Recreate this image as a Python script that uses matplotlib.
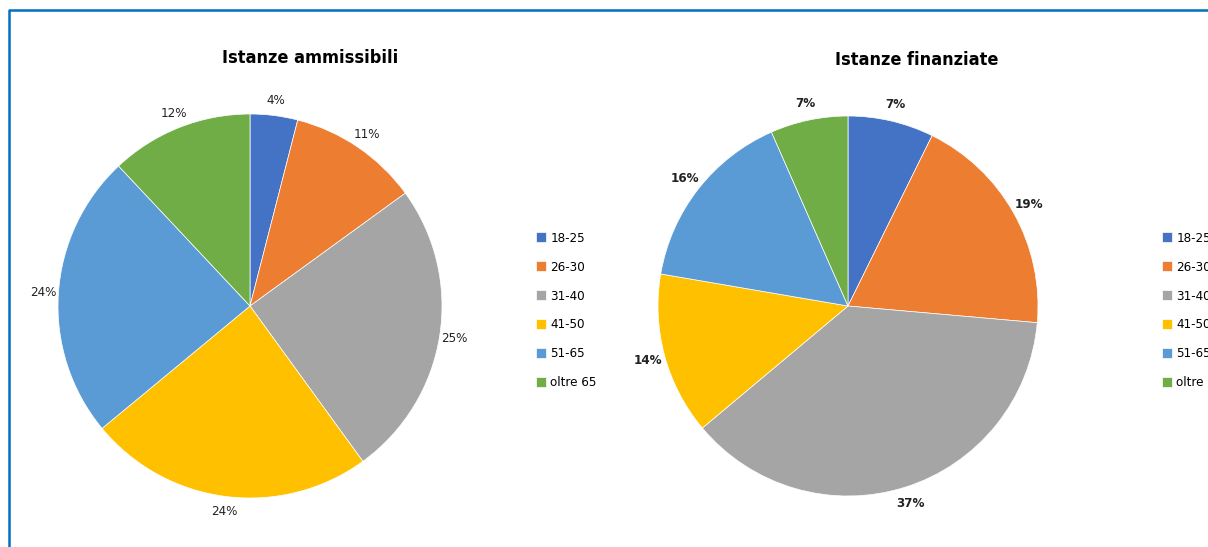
import matplotlib
matplotlib.use("Agg")
from matplotlib import pyplot as plt

# DejaVu Sans Condensed gives the narrow look of the original
plt.rcParams['font.family'] = ['DejaVu Sans', 'DejaVu Sans']
plt.rcParams['font.stretch'] = 'condensed'

categories = ["18-25", "26-30", "31-40", "41-50", "51-65", "oltre 65"]
ammissibili = [4, 11, 25, 24, 24, 12]
amm_labels = ["4%", "11%", "25%", "24%", "24%", "12%"]
finanziate = [7.3, 19.1, 37.5, 13.8, 15.7, 6.6]
fin_labels = ["7%", "19%", "37%", "14%", "16%", "7%"]
colors = ["#4472C4", "#ED7D31", "#A5A5A5", "#FFC000", "#5B9BD5", "#70AD47"]

W, H = 1208, 547
fig = plt.figure(figsize=(W / 100, H / 100), dpi=100)


def draw_pie(ax, vals, labels, bold, ldist):
    wedges, texts = ax.pie(vals, colors=colors, startangle=90, counterclock=False,
                           labels=labels, labeldistance=ldist, radius=1,
                           wedgeprops=dict(linewidth=0.5, edgecolor="white"),
                           textprops=dict(fontsize=9.5, color="#222222",
                                          fontweight="bold" if bold else "normal"))
    for t in texts:
        t.set_ha("center")
        t.set_va("center")
    ax.set_xlim(-1.25, 1.25)
    ax.set_ylim(-1.25, 1.25)
    ax.set_aspect("equal")
    return wedges


# left pie: center (250, 306) px, radius 192
ax1 = fig.add_axes([(250 - 240) / W, (241 - 240) / H, 480 / W, 480 / H])
w1 = draw_pie(ax1, ammissibili, amm_labels, False, 1.08)
# right pie: center (848, 306) px, radius 190
ax2 = fig.add_axes([(848 - 237.5) / W, (241 - 237.5) / H, 475 / W, 475 / H])
w2 = draw_pie(ax2, finanziate, fin_labels, True, 1.09)

fig.text(310 / W, 1 - 58 / H, "Istanze ammissibili", ha="center", va="center",
         fontsize=13, fontweight="bold")
fig.text(917 / W, 1 - 60 / H, "Istanze finanziate", ha="center", va="center",
         fontsize=13, fontweight="bold")

leg_kw = dict(frameon=False, fontsize=9.5, handlelength=0.78, handleheight=0.78,
              handletextpad=0.3, labelspacing=1.2, borderpad=0, borderaxespad=0,
              loc="upper left")
fig.legend(w1, categories, bbox_to_anchor=(536 / W, 1 - 232 / H), **leg_kw)
fig.legend(w2, categories, bbox_to_anchor=(1162 / W, 1 - 232 / H), **leg_kw)

# outer frame (blue)
fig.add_artist(plt.Line2D([9 / W, 9 / W, 1.01], [-0.01, 1 - 10 / H, 1 - 10 / H],
                          transform=fig.transFigure, color="#0070C0", lw=1.8))

fig.savefig("out.png", dpi=100)
